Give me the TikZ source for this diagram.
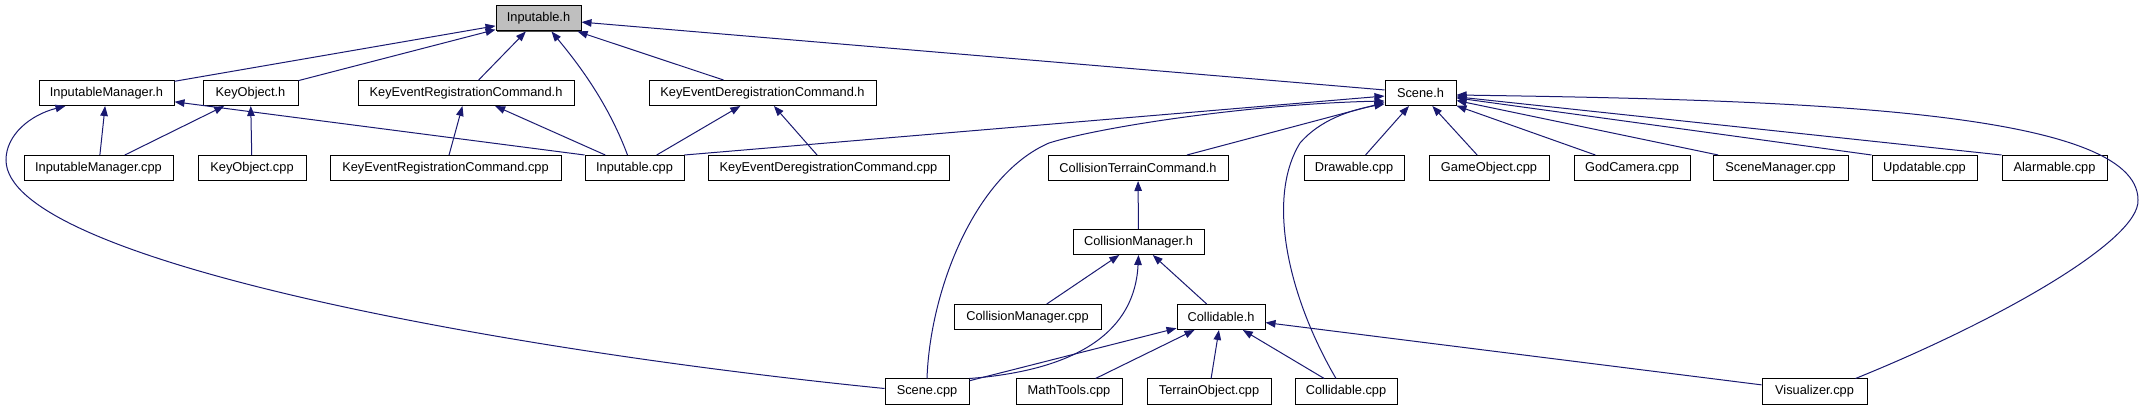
\documentclass[tikz,border=0pt]{standalone}
\usepackage{fontspec}
\setmainfont{Liberation Sans}
\usetikzlibrary{arrows.meta,calc,shadows}
\definecolor{edgeblue}{RGB}{25,25,112}
\definecolor{hdrgray}{RGB}{191,191,191}
\begin{document}
\begin{tikzpicture}[x=1pt,y=-1pt,
  fbox/.style={draw=black,fill=white,line width=1pt,minimum height=25pt,inner sep=0pt,
    font=\fontsize{12.8}{14}\selectfont,
    drop shadow={shadow xshift=1pt,shadow yshift=-1pt,opacity=1,fill=black!70}},
  dep/.style={draw=edgeblue,line width=1pt,-{Triangle[length=10pt,width=7.5pt]}}]
\useasboundingbox (0,0) rectangle (2144,411);
% row 1
\node[fbox,fill=hdrgray,minimum width=85pt] (inh) at (538.5,18.5) {Inputable.h};
% row 2
\node[fbox,minimum width=135pt] (imh) at (106.5,93) {InputableManager.h};
\node[fbox,minimum width=95pt] (koh) at (250.5,93) {KeyObject.h};
\node[fbox,minimum width=216pt] (kerh) at (466,93) {KeyEventRegistrationCommand.h};
\node[fbox,minimum width=227pt] (kedh) at (762.5,93) {KeyEventDeregistrationCommand.h};
\node[fbox,minimum width=71pt] (sceneh) at (1420.5,93) {Scene.h};
% row 3
\node[fbox,minimum width=149pt] (imc) at (98.5,168) {InputableManager.cpp};
\node[fbox,minimum width=108pt] (koc) at (252,168) {KeyObject.cpp};
\node[fbox,minimum width=231pt] (kerc) at (445.5,168) {KeyEventRegistrationCommand.cpp};
\node[fbox,minimum width=99pt] (inc) at (634.5,168) {Inputable.cpp};
\node[fbox,minimum width=241pt] (kedc) at (828.5,168) {KeyEventDeregistrationCommand.cpp};
\node[fbox,minimum width=180pt] (ctch) at (1138,168) {CollisionTerrainCommand.h};
\node[fbox,minimum width=100pt] (drc) at (1354,168) {Drawable.cpp};
\node[fbox,minimum width=120pt] (goc) at (1489,168) {GameObject.cpp};
\node[fbox,minimum width=116pt] (gcc) at (1632,168) {GodCamera.cpp};
\node[fbox,minimum width=135pt] (smc) at (1780.5,168) {SceneManager.cpp};
\node[fbox,minimum width=105pt] (upc) at (1924.5,168) {Updatable.cpp};
\node[fbox,minimum width=105pt] (alc) at (2054.5,168) {Alarmable.cpp};
% row 4
\node[fbox,minimum width=131pt] (cmh) at (1138.5,242) {CollisionManager.h};
% row 5
\node[fbox,minimum width=147pt] (cmc) at (1027.5,317) {CollisionManager.cpp};
\node[fbox,minimum width=88pt] (colh) at (1221,317) {Collidable.h};
% row 6
\node[fbox,minimum width=84pt] (scc) at (927,391.5) {Scene.cpp};
\node[fbox,minimum width=106pt] (mtc) at (1069,391.5) {MathTools.cpp};
\node[fbox,minimum width=124pt] (toc) at (1209,391.5) {TerrainObject.cpp};
\node[fbox,minimum width=102pt] (colc) at (1346,391.5) {Collidable.cpp};
\node[fbox,minimum width=105pt] (vic) at (1814.5,391.5) {Visualizer.cpp};
% edges to Inputable.h
\draw[dep] (imh) -- (inh);
\draw[dep] (koh) -- (inh);
\draw[dep] (kerh) -- (inh);
\draw[dep] ($(inc.north)+(-7,0)$) .. controls (607,100) and (575,60) .. ($(inh.south)+(13,0)$);
\draw[dep] (kedh) -- (inh);
\draw[dep] (sceneh) -- (inh);
% edges to InputableManager.h
\draw[dep] (imc) -- (imh);
\draw[dep] (inc.north west) -- (imh);
\draw[dep] ($(scc.west)+(0,-3)$) .. controls (500,350) and (6,260) .. (6,160)
  .. controls (6,135) and (30,115) .. ($(imh.south west)+(27,0)$);
% edges to KeyObject.h
\draw[dep] (imc) -- (koh);
\draw[dep] (koc) -- (koh);
% edges to KeyEvent*Command.h
\draw[dep] (kerc) -- (kerh);
\draw[dep] (inc) -- (kerh);
\draw[dep] (inc) -- (kedh);
\draw[dep] (kedc) -- (kedh);
% edges to Scene.h
\draw[dep] (inc.north east) -- (sceneh);
\draw[dep] (scc.north) .. controls (930,290) and (975,175) .. (1049,143)
  .. controls (1100,127) and (1250,104) .. ($(sceneh.south west)+(0,-5)$);
\draw[dep] (ctch) -- (sceneh);
\draw[dep] ($(colc.north)+(-10,0)$) .. controls (1290,300) and (1265,200) .. (1300,143)
  .. controls (1320,120) and (1350,110) .. ($(sceneh.south west)+(0,-2)$);
\draw[dep] (drc) -- (sceneh);
\draw[dep] (goc) -- (sceneh);
\draw[dep] (gcc) -- (sceneh);
\draw[dep] (smc) -- (sceneh);
\draw[dep] (upc.north west) -- (sceneh);
\draw[dep] (alc.north west) -- (sceneh);
\draw[dep] ($(vic.north east)+(-12,0)$) .. controls (2000,320) and (2140,240) .. (2138,200)
  .. controls (2138,110) and (1800,100) .. ($(sceneh.east)+(0,2)$);
% CollisionTerrainCommand.h / CollisionManager.h
\draw[dep] (cmh) -- (ctch);
\draw[dep] (cmc) -- (cmh);
\draw[dep] (scc.north east) .. controls (1080,370) and (1135,330) .. (cmh.south);
\draw[dep] (colh) -- (cmh);
% Collidable.h
\draw[dep] (scc) -- (colh);
\draw[dep] (mtc) -- (colh);
\draw[dep] (toc) -- (colh);
\draw[dep] (colc) -- (colh);
\draw[dep] (vic) -- (colh);
\end{tikzpicture}
\end{document}
